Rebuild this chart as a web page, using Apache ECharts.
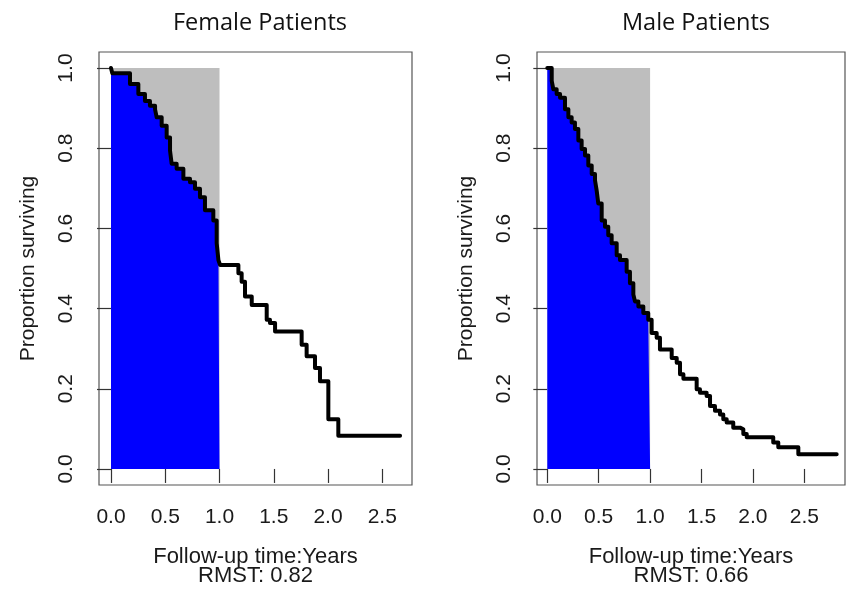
<!DOCTYPE html>
<html>
<head>
<meta charset="utf-8">
<script src="https://cdn.jsdelivr.net/npm/echarts@6/dist/echarts.min.js"></script>
<style>
  html, body { margin: 0; padding: 0; background: #fff; }
  #chart { width: 846px; height: 596px; }
</style>
</head>
<body>
<div id="chart"></div>
<script>
// Kaplan-Meier steps: time (years) and survival after the drop
var femaleTime = [0, 0.012, 0.175, 0.252, 0.313, 0.359, 0.406, 0.421, 0.467, 0.513, 0.544, 0.559,
  0.605, 0.667, 0.728, 0.774, 0.820, 0.866, 0.943, 0.974, 0.990, 1.005, 1.174, 1.204, 1.235,
  1.297, 1.435, 1.465, 1.512, 1.757, 1.803, 1.880, 1.926, 2.003, 2.095, 2.664];
var femaleSurv = [1.0, 0.987, 0.960, 0.935, 0.918, 0.906, 0.897, 0.877, 0.856, 0.827, 0.794, 0.761,
  0.749, 0.724, 0.715, 0.699, 0.678, 0.645, 0.620, 0.563, 0.521, 0.509, 0.488, 0.467, 0.430,
  0.409, 0.372, 0.364, 0.343, 0.310, 0.281, 0.252, 0.219, 0.124, 0.083, 0.083];

var maleTime = [0, 0.043, 0.059, 0.091, 0.124, 0.172, 0.205, 0.237, 0.269, 0.302, 0.334, 0.367,
  0.399, 0.432, 0.464, 0.480, 0.496, 0.529, 0.561, 0.593, 0.626, 0.675, 0.707, 0.772, 0.804,
  0.837, 0.853, 0.886, 0.934, 0.982, 1.015, 1.064, 1.096, 1.210, 1.259, 1.291, 1.324, 1.453,
  1.485, 1.550, 1.583, 1.631, 1.680, 1.712, 1.745, 1.809, 1.875, 1.907, 1.940, 2.198, 2.247,
  2.442, 2.815];
var maleSurv = [1.0, 0.968, 0.947, 0.935, 0.926, 0.897, 0.877, 0.864, 0.848, 0.819, 0.798, 0.782,
  0.757, 0.736, 0.720, 0.695, 0.662, 0.620, 0.604, 0.583, 0.563, 0.533, 0.521, 0.492, 0.463,
  0.435, 0.418, 0.405, 0.389, 0.372, 0.339, 0.327, 0.298, 0.277, 0.265, 0.236, 0.225, 0.199,
  0.190, 0.182, 0.157, 0.145, 0.136, 0.124, 0.116, 0.103, 0.099, 0.087, 0.079, 0.066, 0.054,
  0.037, 0.037];

var panelTitles = ['Female Patients', 'Male Patients'];
var rmstValues = ['0.82', '0.66'];
var tau = 1.0;   // restriction time for RMST
var xTicks = [0, 0.5, 1.0, 1.5, 2.0, 2.5];
var yTicks = [0, 0.2, 0.4, 0.6, 0.8, 1.0];

function pairs(t, s) {
  var out = [];
  for (var i = 0; i < t.length; i++) out.push([t[i], s[i]]);
  return out;
}
// part of the curve up to tau, closed at tau
function upToTau(t, s) {
  var out = [];
  var last = s[0];
  for (var i = 0; i < t.length; i++) {
    if (t[i] > tau) break;
    out.push([t[i], s[i]]);
    last = s[i];
  }
  out.push([tau, last]);
  return out;
}

var tickFont = 'Liberation Sans, Arial, sans-serif';

function xAxisFor(idx, min, max) {
  return {
    type: 'value', gridIndex: idx, min: min, max: max,
    axisLine: { show: false },
    splitLine: { show: false },
    axisTick: { show: true, length: 14, customValues: xTicks, lineStyle: { color: '#333', width: 1.2 } },
    axisLabel: { customValues: xTicks, margin: 22, fontSize: 21, color: '#1a1a1a', fontFamily: tickFont,
      formatter: function (v) { return v.toFixed(1); } },
    name: 'Follow-up time:Years\nRMST: ' + rmstValues[idx],
    nameLocation: 'middle', nameGap: 62,
    nameTextStyle: { fontSize: 22, lineHeight: 19, color: '#1a1a1a', fontFamily: tickFont }
  };
}
function yAxisFor(idx) {
  return {
    type: 'value', gridIndex: idx, min: -0.04, max: 1.04,
    axisLine: { show: false },
    splitLine: { show: false },
    axisTick: { show: true, length: 14, customValues: yTicks, lineStyle: { color: '#333', width: 1.2 } },
    axisLabel: { customValues: yTicks, rotate: 90, margin: 22, fontSize: 21, color: '#1a1a1a', fontFamily: tickFont,
      formatter: function (v) { return v.toFixed(1); } },
    name: 'Proportion surviving',
    nameLocation: 'middle', nameRotate: 90, nameGap: 60,
    nameTextStyle: { fontSize: 21, color: '#1a1a1a', fontFamily: tickFont }
  };
}

function panelSeries(idx, t, s) {
  return [
    { type: 'line', xAxisIndex: idx, yAxisIndex: idx, data: [[0, 1], [tau, 1]],
      symbol: 'none', lineStyle: { width: 0 }, areaStyle: { color: '#BEBEBE', opacity: 1 }, z: 1, silent: true },
    { type: 'line', xAxisIndex: idx, yAxisIndex: idx, data: upToTau(t, s), step: 'end',
      symbol: 'none', lineStyle: { width: 0 }, areaStyle: { color: '#0000FF', opacity: 1 }, z: 2, silent: true },
    { type: 'line', xAxisIndex: idx, yAxisIndex: idx, data: pairs(t, s), step: 'end',
      symbol: 'none', lineStyle: { color: '#000', width: 4, cap: 'round', join: 'round' }, z: 3, silent: true }
  ];
}

var chart = echarts.init(document.getElementById('chart'), null, { renderer: 'canvas' });
chart.setOption({
  animation: false,
  backgroundColor: '#fff',
  title: [
    { text: panelTitles[0], left: 255, top: 6, textAlign: 'center',
      textStyle: { fontSize: 23.5, fontWeight: 'normal', color: '#111', fontFamily: 'Open Sans, sans-serif' } },
    { text: panelTitles[1], left: 691, top: 6, textAlign: 'center',
      textStyle: { fontSize: 23.5, fontWeight: 'normal', color: '#111', fontFamily: 'Open Sans, sans-serif' } }
  ],
  grid: [
    { left: 99, top: 52, width: 313, height: 433, show: true, borderColor: '#555', borderWidth: 1.2 },
    { left: 537, top: 52, width: 308, height: 433, show: true, borderColor: '#555', borderWidth: 1.2 }
  ],
  xAxis: [xAxisFor(0, -0.1106, 2.774), xAxisFor(1, -0.1002, 2.896)],
  yAxis: [yAxisFor(0), yAxisFor(1)],
  series: panelSeries(0, femaleTime, femaleSurv).concat(panelSeries(1, maleTime, maleSurv))
});
</script>
</body>
</html>
